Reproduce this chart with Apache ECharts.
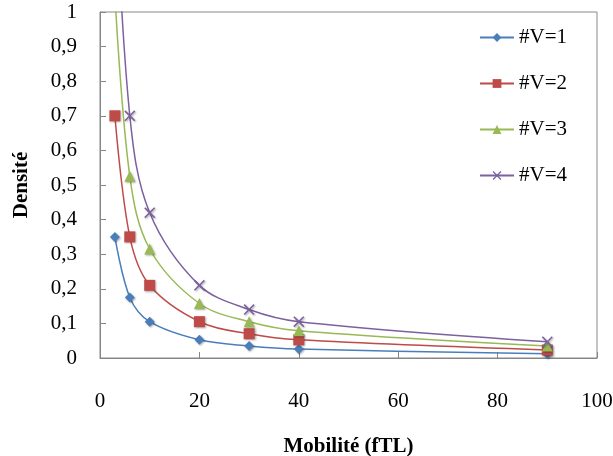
<!DOCTYPE html>
<html><head><meta charset="utf-8">
<script src="https://cdn.jsdelivr.net/npm/echarts@6/dist/echarts.min.js"></script>
<style>html,body{margin:0;padding:0;background:#fff}#c{width:613px;height:456px}</style>
</head><body><div id="c"></div>
<script>
const mobilite = [3, 6, 10, 20, 30, 40, 90];
const v1 = [0.35, 0.175, 0.105, 0.0525, 0.035, 0.026, 0.012];
const v2 = [0.70, 0.35, 0.21, 0.105, 0.07, 0.0525, 0.023];
const v3 = [1.05, 0.525, 0.315, 0.1575, 0.105, 0.079, 0.035];
const v4 = [1.40, 0.70, 0.42, 0.21, 0.14, 0.105, 0.047];
const seriesNames = ['#V=1', '#V=2', '#V=3', '#V=4'];
const xTicks = [0, 20, 40, 60, 80, 100];

const FONT = 'Liberation Serif';
const colors = ['#4a7ebb', '#be4b48', '#98b954', '#7d60a0'];
const symbols = ['diamond', 'rect', 'triangle',
  'path://M0,1L1,0L5,4L9,0L10,1L6,5L10,9L9,10L5,6L1,10L0,9L4,5Z'];
const sizes = [10, 11, 11, 11];
const allData = [v1, v2, v3, v4];

const chart = echarts.init(document.getElementById('c'));
chart.setOption({
  animation: false,
  grid: {left: 100, top: 12, right: 16, bottom: 98, show: true, borderColor: '#888', borderWidth: 1,
    containLabel: false, outerBoundsMode: 'none'},
  legend: {
    orient: 'vertical', left: 474, top: 22, itemGap: 25,
    itemWidth: 34, itemHeight: 11,
    textStyle: {fontFamily: FONT, fontSize: 21, color: '#000'},
    data: seriesNames
  },
  xAxis: {
    type: 'value', min: 0, max: 100, interval: 20,
    name: 'Mobilité (fTL)', nameLocation: 'middle', nameGap: 78,
    nameTextStyle: {fontFamily: FONT, fontSize: 21, fontWeight: 'bold', color: '#000'},
    axisLine: {lineStyle: {color: '#868686'}},
    axisTick: {inside: true, length: 6, lineStyle: {color: '#868686'}},
    splitLine: {show: false},
    axisLabel: {fontFamily: FONT, fontSize: 21, color: '#000', margin: 33,
      formatter: v => xTicks.includes(v) ? String(v) : ''}
  },
  yAxis: {
    type: 'value', min: 0, max: 1, interval: 0.1,
    name: 'Densité', nameLocation: 'middle', nameGap: 68, nameRotate: 90,
    nameTextStyle: {fontFamily: FONT, fontSize: 21, fontWeight: 'bold', color: '#000'},
    axisLine: {show: true, lineStyle: {color: '#868686'}},
    axisTick: {show: true, inside: true, length: 6, lineStyle: {color: '#868686'}},
    splitLine: {show: false},
    axisLabel: {fontFamily: FONT, fontSize: 21, color: '#000', margin: 23,
      formatter: v => (Math.round(v * 10) / 10).toString().replace('.', ',')}
  },
  series: seriesNames.map((n, i) => ({
    name: n, type: 'line', smooth: 0.35, clip: true,
    symbol: symbols[i], symbolSize: sizes[i], showSymbol: true,
    data: mobilite.map((x, j) => [x, allData[i][j]]),
    lineStyle: {color: colors[i], width: 1.5},
    itemStyle: {color: colors[i], shadowBlur: 2, shadowColor: 'rgba(0,0,0,0.35)', shadowOffsetX: 1, shadowOffsetY: 1}
  }))
});
</script></body></html>
